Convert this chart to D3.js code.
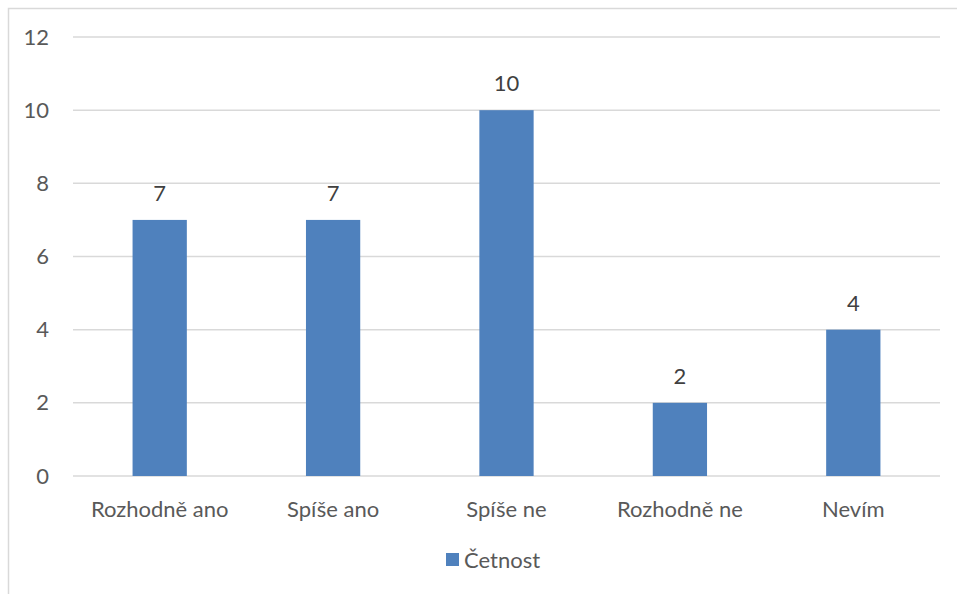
<!DOCTYPE html>
<html>
<head>
<meta charset="utf-8">
<script src="https://cdn.jsdelivr.net/npm/d3@7"></script>
<style>
  html, body { margin: 0; padding: 0; background: #fff; }
  svg { display: block; font-family: Lato, "Open Sans", sans-serif; }
</style>
</head>
<body>
<svg id="chart" width="957" height="594"></svg>
<script>
// Response categories and their counts
const categories = ["Rozhodně ano", "Spíše ano", "Spíše ne", "Rozhodně ne", "Nevím"];
const counts = [7, 7, 10, 2, 4];
const yTicks = [0, 2, 4, 6, 8, 10, 12];
const seriesName = "Četnost";

const svg = d3.select("#chart");
const W = 957, H = 594;
const margin = { left: 73, right: 17, top: 37, bottom: 118 };
const plotW = W - margin.left - margin.right;
const plotH = H - margin.top - margin.bottom;
const barColor = "#4f81bd";
const textColor = "#595959";
const fontSize = 22;

// Outer chart frame
svg.append("rect")
  .attr("x", 8.5).attr("y", 8.5)
  .attr("width", W + 10).attr("height", H + 10)
  .attr("fill", "none").attr("stroke", "#d9d9d9").attr("stroke-width", 1.5);

const g = svg.append("g").attr("transform", `translate(${margin.left},${margin.top})`);

const x = d3.scaleBand().domain(categories).range([0, plotW]).paddingInner(0.687).paddingOuter(0.3435);
const y = d3.scaleLinear().domain([0, 12]).range([plotH, 0]);

// Horizontal gridlines
g.append("g")
  .selectAll("line")
  .data(yTicks)
  .join("line")
  .attr("x1", 0).attr("x2", plotW)
  .attr("y1", d => y(d)).attr("y2", d => y(d))
  .attr("stroke", "#d9d9d9").attr("stroke-width", 1.5);

// Y axis labels
const yAxis = d3.axisLeft(y).tickValues(yTicks).tickSize(0).tickPadding(24);
g.append("g").call(yAxis)
  .call(a => a.select(".domain").remove())
  .selectAll("text")
  .attr("fill", textColor).attr("font-size", fontSize).attr("font-family", "Lato, sans-serif");

// Bars
g.append("g")
  .selectAll("rect")
  .data(counts)
  .join("rect")
  .attr("x", (d, i) => x(categories[i]))
  .attr("y", d => y(d))
  .attr("width", x.bandwidth())
  .attr("height", d => y(0) - y(d))
  .attr("fill", barColor);

// Value labels above bars
g.append("g")
  .selectAll("text")
  .data(counts)
  .join("text")
  .attr("x", (d, i) => x(categories[i]) + x.bandwidth() / 2)
  .attr("y", d => y(d) - 19)
  .attr("text-anchor", "middle")
  .attr("fill", "#404040").attr("font-size", fontSize)
  .text(d => d);

// X axis category labels
const xAxis = d3.axisBottom(x).tickSize(0).tickPadding(25);
g.append("g").attr("transform", `translate(0,${plotH})`).call(xAxis)
  .call(a => a.select(".domain").remove())
  .selectAll("text")
  .attr("fill", textColor).attr("font-size", fontSize).attr("font-family", "Lato, sans-serif");

// Legend
const legend = svg.append("g").attr("transform", "translate(446,553)");
legend.append("rect").attr("width", 13).attr("height", 13).attr("fill", barColor);
legend.append("text").attr("x", 18).attr("y", 7).attr("dy", "0.35em")
  .attr("fill", textColor).attr("font-size", fontSize).text(seriesName);
</script>
</body>
</html>
